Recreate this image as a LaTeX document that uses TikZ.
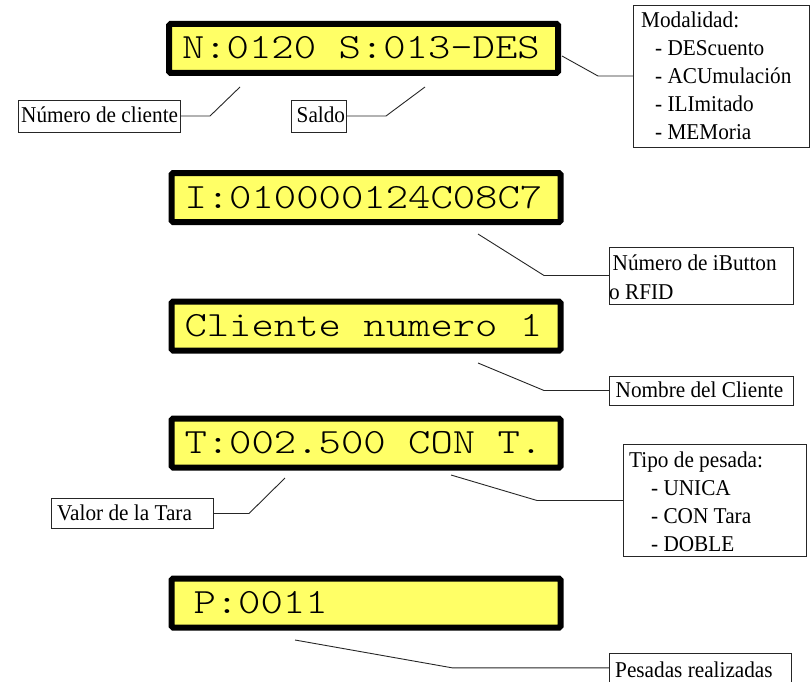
\documentclass[tikz,border=0pt]{standalone}
\usepackage{fontspec}
\setmainfont{Liberation Serif}[FakeStretch=0.94]
\newfontfamily\lcdfont{Latin Modern Mono Light}[FakeStretch=1.2]
\definecolor{lcdyellow}{RGB}{255,255,102}
\newcommand\lcdsp{\hspace*{22.365pt}}
\begin{document}
\begin{tikzpicture}[x=1pt,y=-1pt]
\tikzset{
 lcd/.style={draw=black, line width=6pt, fill=lcdyellow, rounded corners=1.5pt,
   minimum width=389pt, minimum height=49pt, text width=363pt, inner xsep=13pt,
   inner ysep=0pt, text height=21pt, text depth=0pt, align=left, outer sep=0pt,
   font=\lcdfont\fontsize{35.5pt}{40pt}\selectfont},
 lblbox/.style={draw=black!85, line width=0.9pt, inner sep=0pt, outer sep=0pt, anchor=north west},
 lbltxt/.style={inner sep=0pt, anchor=base west, font=\fontsize{22.6pt}{27.9pt}\selectfont},
 leader/.style={draw=black!85, line width=0.9pt},
}
\useasboundingbox (0,0) rectangle (811,682);

% displays
\node[lcd] (d1) at (363.5,48.5) {N:0120\lcdsp S:013-DES};
\node[lcd] (d2) at (366,197.5) {I:010000124C08C7};
\node[lcd] (d3) at (366,326) {Cliente\lcdsp numero\lcdsp 1};
\node[lcd] (d4) at (366,443) {T:002.500\lcdsp CON\lcdsp T.};
\node[lcd] (d5) at (366,603) {\hspace*{9pt}P:0011};

% label boxes
\node[lblbox, minimum width=162pt, minimum height=32pt] (ncli) at (18,100) {};
\node[lblbox, minimum width=55pt, minimum height=32pt] (saldo) at (291,100) {};
\node[lblbox, minimum width=176.5pt, minimum height=142pt] (modal) at (633,5) {};
\node[lblbox, minimum width=184pt, minimum height=57pt] (ibut) at (609,247) {};
\node[lblbox, minimum width=184pt, minimum height=29pt] (nomb) at (609,376) {};
\node[lblbox, minimum width=162pt, minimum height=30pt] (valor) at (51,498.5) {};
\node[lblbox, minimum width=183pt, minimum height=112.4pt] (tipo) at (623,444.3) {};
\node[lblbox, minimum width=182pt, minimum height=29pt] (pes) at (609.5,653.3) {};

% label texts
\node[lbltxt] (ncli-t) at (21,123) {Número de cliente};
\node[lbltxt] (saldo-t) at (296.5,123) {Saldo};
\node[lbltxt] (modal-t) at (641,27.5) {\begin{tabular}[t]{@{}l@{}}Modalidad:\\\hspace*{14pt}- DEScuento\\\hspace*{14pt}- ACUmulación\\\hspace*{14pt}- ILImitado\\\hspace*{14pt}- MEMoria\end{tabular}};
\node[lbltxt, font=\fontsize{22.6pt}{29pt}\selectfont] (ibut-t) at (609,270) {\begin{tabular}[t]{@{}l@{}}\hspace*{3.5pt}Número de iButton\\o RFID\end{tabular}};
\node[lbltxt] (nomb-t) at (615.5,397.3) {Nombre del Cliente};
\node[lbltxt] (valor-t) at (57,520.7) {Valor de la Tara};
\node[lbltxt] (tipo-t) at (629,467.7) {\begin{tabular}[t]{@{}l@{}}Tipo de pesada:\\\hspace*{22pt}- UNICA\\\hspace*{22pt}- CON Tara\\\hspace*{22pt}- DOBLE\end{tabular}};
\node[lbltxt] (pes-t) at (615,677) {Pesadas realizadas};

% connector points
\coordinate (k1) at (210,116);   \coordinate (e1) at (240,87);
\coordinate (k2) at (386,116);   \coordinate (e2) at (425,87);
\coordinate (k3) at (598,76);    \coordinate (e3) at (562,56);
\coordinate (k4) at (544,275.5); \coordinate (e4) at (478,234);
\coordinate (k5) at (544,390.5); \coordinate (e5) at (478,363);
\coordinate (k6) at (249,513.5); \coordinate (e6) at (285,478);
\coordinate (k7) at (537,500.5); \coordinate (e7) at (451,475);
\coordinate (k8) at (452,667.8); \coordinate (e8) at (295,640);

\draw[leader] (ncli.east) -- (k1) -- (e1);
\draw[leader] (saldo.east) -- (k2) -- (e2);
\draw[leader] (modal.west) -- (k3) -- (e3);
\draw[leader] (ibut.west) -- (k4) -- (e4);
\draw[leader] (nomb.west) -- (k5) -- (e5);
\draw[leader] (valor.east) -- (k6) -- (e6);
\draw[leader] (tipo.west) -- (k7) -- (e7);
\draw[leader] (pes.west) -- (k8) -- (e8);
\end{tikzpicture}
\end{document}
